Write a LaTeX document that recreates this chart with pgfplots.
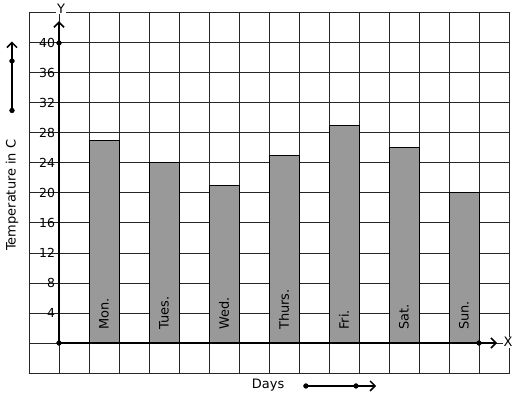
\documentclass[border=0pt]{standalone}
\usepackage{pgfplots}
\pgfplotsset{compat=1.18}
\usepackage{fontspec}
\setmainfont{DejaVu Sans}
\usetikzlibrary{arrows.meta}
\begin{document}
\begin{tikzpicture}
\path[use as bounding box] (-29bp,-26bp) rectangle (488bp,373bp);
\begin{axis}[
  at={(0,0)}, anchor=south west,
  width=480bp, height=360bp, scale only axis,
  xmin=-1, xmax=15, ymin=-4, ymax=44,
  xtick={-1,0,...,15}, xticklabels={},
  ytick={-4,0,...,44},
  yticklabels={,,4,8,12,16,20,24,28,32,36,40,},
  grid=major,
  major grid style={draw=black!85, line width=1bp},
  axis line style={draw=black!85, line width=1bp},
  major tick length=0pt,
  yticklabel style={font=\fontsize{12.5}{14}\selectfont, xshift=29.5bp},
  clip=false,
]
\addplot[ybar, bar width=1, fill=black!40, draw=black, line width=1bp]
  coordinates {(1.5,27) (3.5,24) (5.5,21) (7.5,25) (9.5,29) (11.5,26) (13.5,20)};
\addplot[line width=2.2bp, -{Straight Barb[length=5bp,width=10bp,line width=1.5bp]}]
  coordinates {(0,0) (0,42.9)};
\addplot[line width=2.2bp, -{Straight Barb[length=5bp,width=10bp,line width=1.5bp]}]
  coordinates {(0,0) (14.6,0)};
\addplot[only marks, mark=*, mark size=2.4bp, black]
  coordinates {(0,0) (0,40) (14,0)};
\addplot[line width=2.2bp, -{Straight Barb[length=5bp,width=10bp,line width=1.5bp]}]
  coordinates {(-1.567,31) (-1.567,40.2)};
\addplot[only marks, mark=*, mark size=2.4bp, black]
  coordinates {(-1.567,31) (-1.567,37.6)};
\addplot[line width=2.2bp, -{Straight Barb[length=5bp,width=10bp,line width=1.5bp]}]
  coordinates {(8.23,-5.73) (10.57,-5.73)};
\addplot[only marks, mark=*, mark size=2.4bp, black]
  coordinates {(8.23,-5.73) (9.9,-5.73)};
\begin{scope}[font=\fontsize{13}{15}\selectfont]
\node[rotate=90, anchor=west] at (axis cs:1.5,1.3) {Mon.};
\node[rotate=90, anchor=west] at (axis cs:3.5,1.3) {Tues.};
\node[rotate=90, anchor=west] at (axis cs:5.5,1.3) {Wed.};
\node[rotate=90, anchor=west] at (axis cs:7.5,1.3) {Thurs.};
\node[rotate=90, anchor=west] at (axis cs:9.5,1.3) {Fri.};
\node[rotate=90, anchor=west] at (axis cs:11.5,1.3) {Sat.};
\node[rotate=90, anchor=west] at (axis cs:13.5,1.3) {Sun.};
\node at (axis cs:6.97,-5.6) {Days};
\node[rotate=90] at (axis cs:-1.567,19.7) {Temperature in C};
\node[fill=white, inner sep=1bp] at (axis cs:14.97,0.1) {X};
\node[fill=white, inner sep=1bp] at (axis cs:0.07,44.6) {Y};
\end{scope}
\end{axis}
\end{tikzpicture}
\end{document}
